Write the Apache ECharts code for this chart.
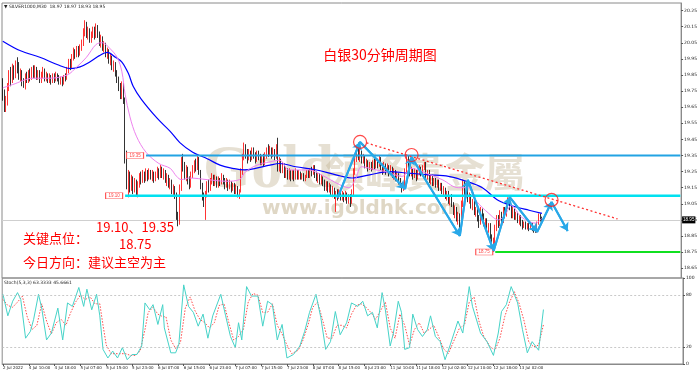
<!DOCTYPE html>
<html><head><meta charset="utf-8">
<script src="https://cdn.jsdelivr.net/npm/echarts@6/dist/echarts.min.js"></script>
<style>html,body{margin:0;padding:0;background:#fff}#c{width:700px;height:374px}</style>
</head><body><div id="c"></div>
<script>
// ---------- DATA ----------
const xLabels = ['2 Jul 2022','4 Jul 10:00','4 Jul 18:00','5 Jul 07:00','5 Jul 15:00','5 Jul 23:00','6 Jul 07:00','6 Jul 15:00','6 Jul 23:00','7 Jul 07:00','7 Jul 15:00','7 Jul 23:00','8 Jul 07:00','8 Jul 15:00','8 Jul 23:00','11 Jul 10:00','11 Jul 18:00','12 Jul 02:00','12 Jul 10:00','12 Jul 18:00','13 Jul 02:00'];
// candles in hundredths: [open, close, low, high]
const ohlc = [
[1980,1972,1969,1983],[1972,1964,1962,1976],[1964,1968,1962,1972],[1968,1978,1966,1980],[1978,1986,1975,1988],[1986,1982,1978,1990],[1982,1988,1980,1992],[1988,1985,1982,1991],[1985,1992,1983,1994],[1992,1990,1986,1996],
[1990,1984,1982,1993],[1984,1987,1981,1989],[1987,1980,1978,1988],[1980,1979,1977,1983],[1979,1984,1976,1986],[1984,1982,1980,1987],[1982,1986,1980,1988],[1986,1983,1981,1989],[1983,1988,1982,1990],[1988,1985,1983,1991],
[1985,1989,1983,1991],[1989,1984,1982,1990],[1984,1986,1982,1988],[1986,1981,1980,1988],[1981,1985,1980,1987],[1985,1987,1983,1990],[1987,1983,1981,1989],[1983,1985,1981,1987],[1985,1982,1980,1986],[1982,1984,1980,1986],
[1984,1981,1979,1985],[1981,1984,1980,1986],[1984,1982,1980,1986],[1982,1985,1981,1987],[1985,1983,1981,1986],[1983,1980,1979,1985],[1980,1983,1979,1984],[1983,1980,1978,1984],[1980,1984,1979,1985],[1984,1983,1981,1986],
[1983,1988,1982,1990],[1988,1993,1986,1995],[1993,1990,1988,1995],[1990,1996,1989,1998],[1996,1999,1994,2002],[1999,1997,1995,2001],[1997,2001,1996,2003],[2001,1998,1996,2003],[1998,2002,1997,2004],[2002,2005,2000,2007],
[2005,2012,2003,2014],[2012,2016,2009,2019],[2016,2010,2008,2018],[2010,2013,2007,2015],[2013,2007,2005,2014],[2007,2010,2005,2012],[2010,2013,2008,2015],[2013,2009,2007,2015],[2009,2015,2008,2017],[2015,2010,2008,2016],
[2010,2006,2003,2012],[2006,2008,2002,2010],[2008,2002,2000,2009],[2002,2004,1999,2006],[2004,1998,1996,2005],[1998,2000,1995,2002],[2000,1994,1992,2001],[1994,1996,1991,1998],[1996,1990,1988,1997],[1990,1992,1987,1994],
[1992,1986,1984,1993],[1986,1982,1980,1988],[1982,1978,1975,1984],[1978,1972,1970,1980],[1972,1978,1970,1981],[1978,1969,1967,1980],[1969,1935,1930,1971],[1935,1918,1914,1938],[1918,1922,1909,1926],[1922,1916,1912,1925],
[1916,1920,1913,1923],[1920,1914,1911,1922],[1914,1918,1912,1921],[1918,1912,1910,1920],[1912,1917,1909,1919],[1917,1922,1915,1924],[1922,1919,1917,1925],[1919,1923,1918,1926],[1923,1920,1918,1925],[1920,1924,1919,1927],
[1924,1921,1919,1926],[1921,1925,1920,1927],[1925,1922,1920,1926],[1922,1924,1919,1926],[1924,1920,1918,1925],[1920,1923,1919,1925],[1923,1926,1921,1928],[1926,1922,1920,1927],[1922,1926,1921,1929],[1926,1923,1921,1928],
[1923,1925,1920,1927],[1925,1920,1918,1926],[1920,1922,1916,1924],[1922,1917,1915,1923],[1917,1919,1914,1921],[1919,1913,1911,1920],[1913,1915,1910,1917],[1915,1910,1908,1916],[1910,1898,1895,1912],[1898,1893,1891,1900],
[1893,1915,1892,1917],[1915,1932,1913,1934],[1932,1928,1925,1936],[1928,1922,1920,1931],[1922,1927,1919,1929],[1927,1920,1917,1928],[1920,1916,1914,1922],[1916,1923,1915,1925],[1923,1926,1921,1929],[1926,1930,1924,1932],
[1930,1927,1925,1933],[1927,1933,1926,1935],[1933,1925,1923,1934],[1925,1916,1914,1926],[1916,1910,1907,1918],[1910,1906,1903,1912],[1906,1911,1895,1913],[1911,1917,1909,1919],[1917,1914,1912,1920],[1914,1919,1913,1921],
[1919,1922,1917,1924],[1922,1918,1916,1923],[1918,1921,1916,1923],[1921,1917,1915,1922],[1917,1920,1915,1922],[1920,1918,1916,1921],[1918,1922,1917,1924],[1922,1919,1917,1923],[1919,1916,1914,1921],[1916,1919,1915,1921],
[1919,1915,1913,1920],[1915,1918,1914,1920],[1918,1914,1912,1919],[1914,1917,1913,1918],[1917,1913,1911,1918],[1913,1915,1911,1917],[1915,1911,1909,1916],[1911,1913,1908,1914],[1913,1925,1912,1927],[1925,1934,1923,1936],
[1934,1940,1932,1943],[1940,1937,1933,1942],[1937,1933,1930,1939],[1933,1937,1932,1939],[1937,1934,1931,1938],[1934,1938,1932,1940],[1938,1935,1933,1940],[1935,1932,1930,1937],[1932,1936,1931,1938],[1936,1934,1932,1938],
[1934,1931,1929,1936],[1931,1934,1929,1935],[1934,1930,1928,1936],[1930,1935,1929,1937],[1935,1938,1933,1940],[1938,1936,1934,1942],[1936,1939,1935,1941],[1939,1935,1933,1940],[1935,1938,1934,1940],[1938,1934,1932,1939],
[1934,1940,1933,1942],[1940,1927,1925,1946],[1927,1932,1925,1934],[1932,1926,1924,1933],[1926,1929,1924,1931],[1929,1923,1921,1930],[1923,1926,1921,1928],[1926,1922,1920,1927],[1922,1925,1920,1927],[1925,1921,1919,1926],
[1921,1924,1920,1926],[1924,1921,1919,1926],[1921,1925,1920,1927],[1925,1922,1920,1926],[1922,1924,1920,1926],[1924,1921,1920,1925],[1921,1923,1920,1924],[1923,1920,1919,1924],[1920,1922,1919,1923],[1922,1925,1921,1926],
[1925,1922,1921,1926],[1922,1926,1921,1927],[1926,1924,1922,1928],[1924,1927,1923,1929],[1927,1923,1921,1929],[1923,1920,1919,1925],[1920,1923,1918,1924],[1923,1919,1917,1924],[1919,1921,1917,1923],[1921,1918,1916,1922],
[1918,1915,1913,1920],[1915,1918,1913,1919],[1918,1914,1912,1919],[1914,1916,1912,1918],[1916,1912,1910,1917],[1912,1914,1909,1916],[1914,1910,1908,1915],[1910,1912,1900,1913],[1912,1909,1907,1914],[1909,1912,1908,1914],
[1912,1909,1907,1914],[1909,1911,1907,1913],[1911,1908,1906,1912],[1908,1911,1907,1913],[1911,1907,1905,1912],[1907,1909,1905,1911],[1909,1906,1903,1911],[1906,1912,1905,1914],[1912,1925,1910,1927],[1925,1933,1923,1935],
[1933,1938,1931,1940],[1938,1934,1932,1943],[1934,1937,1931,1939],[1937,1932,1930,1938],[1932,1934,1930,1936],[1934,1929,1927,1935],[1929,1931,1927,1933],[1931,1927,1925,1932],[1927,1930,1926,1931],[1930,1927,1925,1931],
[1927,1931,1926,1932],[1931,1928,1926,1933],[1928,1932,1927,1934],[1932,1929,1927,1933],[1929,1933,1928,1935],[1933,1928,1926,1934],[1928,1926,1923,1930],[1926,1929,1924,1931],[1929,1925,1923,1930],[1925,1928,1924,1930],
[1928,1924,1922,1929],[1924,1927,1923,1929],[1927,1923,1921,1928],[1923,1925,1920,1927],[1925,1921,1919,1926],[1921,1923,1919,1925],[1923,1919,1917,1924],[1919,1917,1915,1921],[1917,1914,1912,1918],[1914,1916,1913,1918],
[1916,1925,1915,1927],[1925,1933,1924,1935],[1933,1927,1925,1935],[1927,1924,1922,1929],[1924,1926,1922,1928],[1926,1922,1920,1927],[1922,1925,1921,1927],[1925,1921,1919,1926],[1921,1924,1920,1926],[1924,1927,1923,1929],
[1927,1924,1922,1928],[1924,1928,1923,1929],[1928,1930,1926,1931],[1930,1922,1920,1931],[1922,1925,1920,1926],[1925,1920,1918,1926],[1920,1922,1917,1923],[1922,1918,1916,1923],[1918,1920,1916,1921],[1920,1917,1915,1921],
[1917,1919,1915,1920],[1919,1915,1913,1920],[1915,1917,1913,1918],[1917,1913,1911,1918],[1913,1914,1910,1916],[1914,1910,1908,1915],[1910,1912,1907,1913],[1912,1907,1905,1913],[1907,1909,1904,1910],[1909,1905,1903,1911],
[1905,1900,1898,1906],[1900,1902,1896,1904],[1902,1896,1894,1903],[1896,1898,1892,1900],[1898,1890,1886,1899],[1890,1905,1889,1907],[1905,1917,1903,1920],[1917,1912,1910,1919],[1912,1914,1909,1916],[1914,1908,1906,1915],
[1908,1910,1905,1912],[1910,1904,1902,1911],[1904,1906,1901,1908],[1906,1900,1898,1907],[1900,1902,1897,1903],[1902,1896,1894,1903],[1896,1894,1890,1898],[1894,1901,1892,1903],[1901,1897,1895,1902],[1897,1893,1891,1899],
[1893,1895,1889,1896],[1895,1890,1888,1896],[1890,1892,1887,1893],[1892,1885,1883,1893],[1885,1879,1877,1886],[1879,1882,1875,1884],[1882,1890,1880,1892],[1890,1896,1888,1898],[1896,1893,1890,1898],[1893,1898,1891,1901],
[1898,1895,1892,1900],[1895,1901,1893,1903],[1901,1899,1896,1903],[1899,1905,1897,1907],[1905,1907,1902,1909],[1907,1903,1901,1909],[1903,1898,1896,1904],[1898,1901,1896,1903],[1901,1897,1895,1902],[1897,1899,1895,1900],
[1899,1895,1893,1900],[1895,1897,1892,1898],[1897,1893,1891,1898],[1893,1891,1889,1895],[1891,1893,1890,1894],[1893,1891,1889,1894],[1891,1892,1889,1893],[1892,1890,1888,1893],[1890,1892,1889,1893],[1892,1890,1888,1893],
[1890,1889,1887,1891],[1889,1888,1887,1890],[1888,1893,1887,1894],[1893,1898,1892,1899],[1898,1897,1894,1899],[1897,1895,1893,1897]
];
// moving averages: [bar index, price]
const maSlow = [[0,20.06],[11,20.00],[23,19.96],[35,19.91],[42,19.89],[48,19.90],[54,19.93],[60,19.97],[65,19.99],[70,19.96],[74,19.93],[78,19.86],[81,19.78],[86,19.70],[96,19.58],[104,19.50],[110,19.43],[118,19.37],[127,19.33],[135,19.29],[143,19.27],[150,19.26],[157,19.27],[166,19.29],[172,19.30],[182,19.28],[195,19.26],[207,19.23],[217,19.21],[228,19.23],[240,19.25],[252,19.24],[265,19.23],[277,19.22],[288,19.19],[298,19.15],[308,19.07],[319,19.03],[327,19.01],[335,18.99]];
const maFast = [[0,19.77],[6,19.79],[19,19.83],[29,19.83],[40,19.85],[46,19.90],[52,19.96],[58,20.04],[62,20.05],[66,20.02],[71,19.96],[74,19.87],[76,19.73],[79,19.59],[83,19.47],[89,19.37],[97,19.30],[104,19.27],[108,19.22],[111,19.20],[116,19.21],[127,19.20],[139,19.19],[147,19.20],[151,19.25],[158,19.29],[166,19.31],[172,19.32],[178,19.26],[190,19.26],[198,19.23],[207,19.18],[215,19.15],[219,19.20],[223,19.28],[232,19.26],[238,19.25],[248,19.22],[254,19.27],[263,19.24],[273,19.20],[283,19.15],[289,19.15],[294,19.07],[302,18.99],[308,18.95],[312,18.98],[316,19.04],[322,18.97],[331,18.93],[335,18.96]];
// stochastic %K and %D: [bar index, value]
const stochK = [[0,81],[3,56],[6,73],[9,83],[11,75],[14,30],[17,38],[19,52],[22,81],[24,65],[27,28],[30,36],[34,65],[37,28],[40,71],[43,67],[47,89],[50,67],[52,87],[55,63],[58,81],[60,56],[62,17],[65,7],[68,15],[71,7],[74,19],[77,5],[80,11],[83,11],[86,21],[88,71],[91,63],[93,69],[96,46],[99,69],[100,42],[104,13],[107,13],[109,23],[112,92],[115,67],[118,60],[121,44],[124,58],[127,30],[130,56],[135,81],[138,56],[141,32],[144,19],[146,48],[148,28],[151,90],[154,79],[158,79],[161,44],[164,73],[167,69],[170,28],[173,46],[176,7],[180,11],[184,21],[187,38],[190,60],[194,81],[197,54],[200,17],[203,26],[206,61],[209,34],[213,48],[216,71],[220,67],[223,73],[226,56],[229,60],[232,42],[235,83],[237,63],[240,21],[242,36],[245,73],[247,60],[249,17],[252,19],[254,58],[257,40],[260,32],[263,40],[265,56],[268,32],[271,26],[274,5],[277,21],[282,50],[285,36],[289,90],[291,67],[296,36],[300,26],[304,10],[307,36],[309,61],[312,69],[315,90],[319,71],[322,40],[325,13],[328,26],[332,16],[335,63.33]];
const stochD = [[0,75],[3,68],[6,66],[9,72],[12,79],[15,55],[18,40],[21,45],[24,70],[27,50],[30,35],[33,48],[36,52],[39,45],[42,60],[45,72],[48,80],[51,75],[54,78],[57,70],[60,70],[62,45],[64,22],[67,12],[70,12],[73,12],[76,12],[79,10],[82,10],[85,15],[88,40],[90,60],[93,66],[96,58],[99,55],[101,55],[104,28],[107,18],[110,25],[113,65],[116,78],[119,62],[122,52],[125,48],[128,42],[131,48],[134,68],[137,70],[140,48],[143,28],[146,32],[149,40],[152,72],[155,82],[158,80],[161,60],[164,60],[167,70],[170,45],[173,35],[176,22],[179,12],[183,16],[186,28],[189,45],[192,66],[195,72],[198,52],[201,30],[204,30],[207,45],[210,45],[213,42],[216,58],[219,68],[222,70],[225,66],[228,60],[231,52],[234,62],[237,72],[240,42],[243,30],[246,58],[249,45],[252,22],[255,40],[258,48],[261,36],[264,40],[267,45],[270,32],[273,18],[276,12],[279,25],[283,42],[286,45],[289,72],[292,78],[295,50],[298,32],[302,20],[305,16],[308,30],[311,55],[314,72],[317,84],[320,70],[323,50],[326,25],[329,20],[332,22],[335,45.67]];
// key horizontal levels: price and first bar
const levelPrices = [19.35, 19.10, 18.75];
const levelStarts = [89, 76, 306];
// projected zig-zag path, trend line and marked highs: [bar index, price]
const zigzag = [[208,19.086],[222,19.434],[250,19.142],[254,19.341],[284,18.85],[289,19.198],[305,18.757],[315,19.092],[332,18.875],[341,19.061],[351,18.881]];
const trendLine = [[226,19.428],[382,18.956]];
const circles = [[222,19.434],[254,19.353],[341,19.074]];
const priceTicks = [18.65,18.75,18.85,18.95,19.05,19.15,19.25,19.35,19.45,19.55,19.65,19.75,19.85,19.95,20.05,20.15,20.25];
const stochTicks = [0,20,80,100];
const lastPrice = 18.95;
const headerText = 'SILVER1000,M30  18.97 18.97 18.93 18.95';
const stochText = 'Stoch(5,3,3) 63.3333 45.6661';

// ---------- CHART ----------
const N = 422;
const cats = []; for (let i = 0; i < N; i++) cats.push(String(i));
const isLab = (i) => i % 16 === 0 && i / 16 < xLabels.length;
const levelColors = ['#22a3e3', '#00e1f0', '#10e020'];
const red = '#ff0000';
const cjk = '"Noto Sans CJK SC", sans-serif';

const series = [];
series.push({
  type: 'candlestick', xAxisIndex: 0, yAxisIndex: 0, z: 3, barWidth: 1,
  data: ohlc.map(a => a.map(v => v / 100)),
  itemStyle: { color: red, color0: '#000', borderColor: red, borderColor0: '#000', borderWidth: 0.8 },
  markLine: {
    silent: true, symbol: 'none', z: 1,
    data: [{ yAxis: lastPrice }],
    lineStyle: { color: '#cfcfcf', width: 1, type: 'solid' },
    label: { show: true, position: 'end', distance: 1, formatter: lastPrice.toFixed(2), backgroundColor: '#000', color: '#fff', fontSize: 4.5, padding: [1, 1] }
  }
});
series.push({ type: 'line', xAxisIndex: 0, yAxisIndex: 0, z: 4, data: maSlow, showSymbol: false, smooth: 0.35, lineStyle: { color: '#0000ff', width: 1.2 } });
series.push({ type: 'line', xAxisIndex: 0, yAxisIndex: 0, z: 4, data: maFast, showSymbol: false, smooth: 0.35, lineStyle: { color: '#ee82ee', width: 1 } });
levelPrices.forEach((p, k) => {
  series.push({
    type: 'line', xAxisIndex: 0, yAxisIndex: 0, z: 5, showSymbol: false,
    data: [[levelStarts[k], p], [N - 1, p]],
    lineStyle: { color: levelColors[k], width: k === 1 ? 2.5 : 2 },
    markPoint: {
      silent: true,
      data: [{ coord: [levelStarts[k], p], symbol: 'rect', symbolSize: [17, 6], symbolOffset: [-11, 0],
        itemStyle: { color: '#fff', borderColor: '#f55', borderWidth: 0.7 },
        label: { show: true, position: 'inside', formatter: p.toFixed(2), color: '#f44', fontSize: 4.5 } }]
    }
  });
});
const segs = [];
for (let i = 0; i < zigzag.length - 1; i++) segs.push([{ coord: zigzag[i] }, { coord: zigzag[i + 1] }]);
series.push({
  type: 'line', xAxisIndex: 0, yAxisIndex: 0, z: 6, showSymbol: false, data: zigzag,
  lineStyle: { color: '#28a8e8', width: 2 },
  markLine: { silent: true, symbol: ['none', 'arrow'], symbolSize: 8, data: segs,
    lineStyle: { color: '#28a8e8', width: 2, type: 'solid' }, label: { show: false } }
});
series.push({ type: 'line', xAxisIndex: 0, yAxisIndex: 0, z: 6, showSymbol: false, data: trendLine,
  lineStyle: { color: '#ff3030', width: 1.3, type: [2, 2.5] } });
series.push({ type: 'scatter', xAxisIndex: 0, yAxisIndex: 0, z: 7, data: circles, symbol: 'circle', symbolSize: 13,
  itemStyle: { color: 'rgba(0,0,0,0)', borderColor: '#ff1a1a', borderWidth: 1.2 } });
series.push({
  type: 'line', xAxisIndex: 1, yAxisIndex: 1, z: 4, showSymbol: false, data: stochK,
  lineStyle: { color: '#46d3c8', width: 1 },
  markLine: { silent: true, symbol: 'none', data: [{ yAxis: 20 }, { yAxis: 80 }],
    lineStyle: { color: '#bbbbbb', width: 0.8, type: [2, 2] }, label: { show: false } }
});
series.push({ type: 'line', xAxisIndex: 1, yAxisIndex: 1, z: 3, showSymbol: false, data: stochD,
  lineStyle: { color: '#ff4a4a', width: 1, type: [1.5, 1.5] } });

const wm = 'rgba(196,182,150,0.42)';
const option = {
  animation: false,
  backgroundColor: '#fff',
  grid: [
    { left: 2, right: 17, top: 3, height: 275, show: true, borderColor: '#8a8a8a', borderWidth: 1 },
    { left: 2, right: 17, top: 278, height: 86, show: true, borderColor: '#8a8a8a', borderWidth: 1 }
  ],
  xAxis: [
    { type: 'category', gridIndex: 0, data: cats, boundaryGap: true, axisLine: { show: false }, axisTick: { show: false }, axisLabel: { show: false }, splitLine: { show: false } },
    { type: 'category', gridIndex: 1, data: cats, boundaryGap: true,
      axisLine: { show: true, lineStyle: { color: '#8a8a8a' } },
      axisTick: { show: true, length: 2, alignWithLabel: true, interval: (i) => isLab(i), lineStyle: { color: '#555' } },
      axisLabel: { show: true, interval: (i) => isLab(i), formatter: (v, i) => isLab(i) ? xLabels[i / 16] : '', fontSize: 4, color: '#222', align: 'left', margin: 2, fontFamily: 'DejaVu Sans' },
      splitLine: { show: false } }
  ],
  yAxis: [
    { type: 'value', gridIndex: 0, position: 'right', min: 18.589, max: 20.297,
      splitLine: { show: false },
      axisLine: { show: true, lineStyle: { color: '#8a8a8a' } },
      axisTick: { show: true, length: 2, customValues: priceTicks, lineStyle: { color: '#555' } },
      axisLabel: { show: true, customValues: priceTicks, formatter: (v) => v.toFixed(2), fontSize: 4.5, color: '#222', margin: 3, fontFamily: 'DejaVu Sans' } },
    { type: 'value', gridIndex: 1, position: 'right', min: 0, max: 100,
      splitLine: { show: false },
      axisLine: { show: true, lineStyle: { color: '#8a8a8a' } },
      axisTick: { show: true, length: 2, customValues: stochTicks, lineStyle: { color: '#555' } },
      axisLabel: { show: true, customValues: stochTicks, fontSize: 4.5, color: '#222', margin: 3, fontFamily: 'DejaVu Sans' } }
  ],
  graphic: [
    // watermark
    { type: 'text', z: 0, x: 203, y: 140, style: { text: 'Gold', fill: wm, font: 'bold 62px "Liberation Serif"' } },
    { type: 'text', z: 0, x: 325, y: 152, style: { text: '領峰貴金屬', fill: wm, font: 'bold 40px "Noto Sans CJK TC"' } },
    { type: 'text', z: 0, x: 262, y: 199, style: { text: 'www.igoldhk.com', fill: 'rgba(196,182,150,0.55)', font: 'bold 20px "DejaVu Sans"' } },
    // headers
    { type: 'text', z: 10, x: 4, y: 4, style: { text: '▼ ' + headerText, fill: '#222', font: '4.5px "DejaVu Sans"' } },
    { type: 'text', z: 10, x: 4, y: 280, style: { text: stochText, fill: '#222', font: '4.5px "DejaVu Sans"' } },
    // titles and notes
    { type: 'text', z: 10, x: 380, y: 55, style: { text: '白银30分钟周期图', fill: red, font: '14px ' + cjk, align: 'center', verticalAlign: 'middle' } },
    { type: 'text', z: 10, x: 96, y: 227, style: { text: '19.10、19.35', fill: red, font: '13px ' + cjk, verticalAlign: 'middle' } },
    { type: 'text', z: 10, x: 23, y: 238, style: { text: '关键点位：', fill: red, font: '13px ' + cjk, verticalAlign: 'middle' } },
    { type: 'text', z: 10, x: 119, y: 244, style: { text: '18.75', fill: red, font: '13px ' + cjk, verticalAlign: 'middle' } },
    { type: 'text', z: 10, x: 23, y: 262, style: { text: '今日方向：建议主空为主', fill: red, font: '13px ' + cjk, verticalAlign: 'middle' } }
  ],
  series: series
};
const chart = echarts.init(document.getElementById('c'), null, { renderer: 'canvas' });
chart.setOption(option);
</script>
</body></html>
